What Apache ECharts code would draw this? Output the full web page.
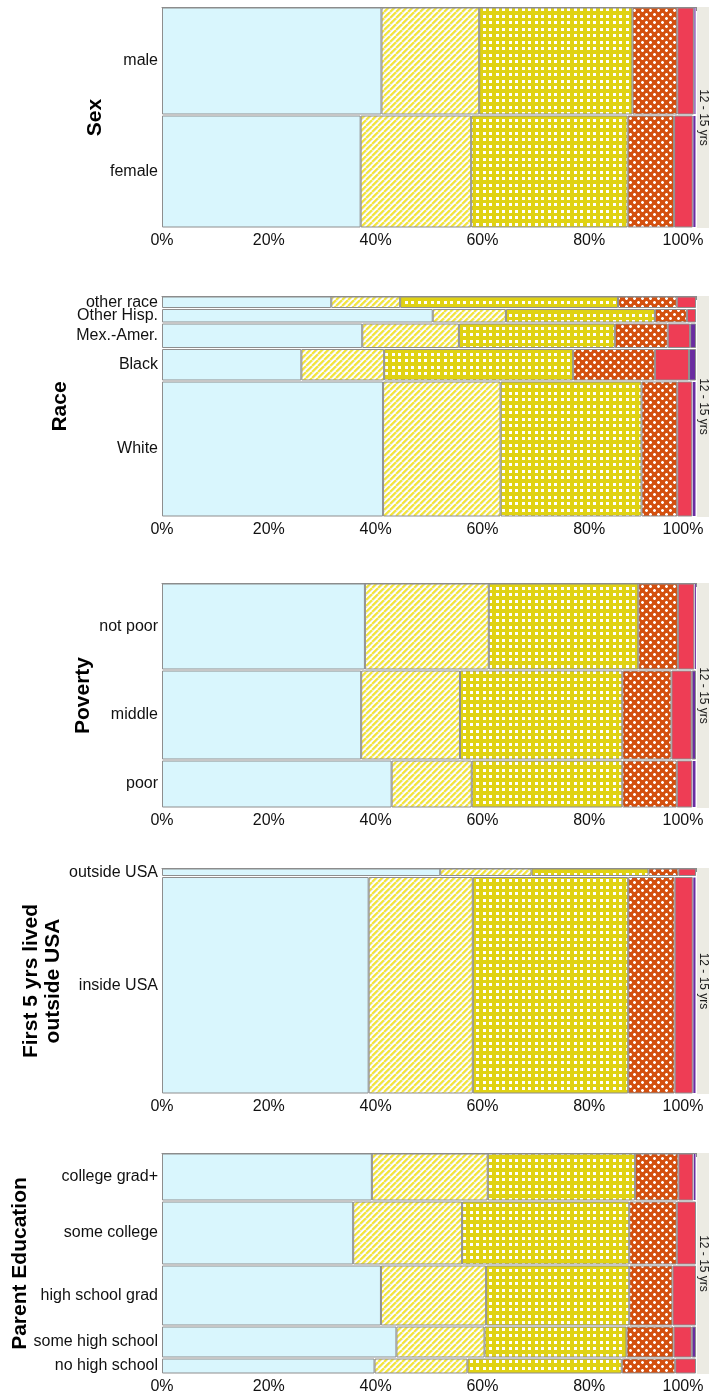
<!DOCTYPE html>
<html><head><meta charset="utf-8">
<script src="https://cdn.jsdelivr.net/npm/echarts@6/dist/echarts.min.js"></script>
<style>html,body{margin:0;padding:0;background:#fff}#c{width:709px;height:1397px}</style>
</head><body><div id="c"></div>
<script>
// ---------- DATA ----------
// Response levels (6 ordered groups); each row's percentages across them.
const xTicks = [0, 20, 40, 60, 80, 100];
const stripLabel = '12 - 15 yrs';

const sexTitle = 'Sex';
const sexRows = ['male', 'female'];
const sexCounts = [108, 113];
const sexPct = [
  [41.1, 18.3, 28.7, 8.4, 3.1, 0.4],
  [37.2, 20.7, 29.3, 8.7, 3.5, 0.6]
];

const raceTitle = 'Race';
const raceRows = ['other race', 'Other Hisp.', 'Mex.-Amer.', 'Black', 'White'];
const raceCounts = [12.5, 14.5, 25.5, 32.5, 136];
const racePct = [
  [31.7, 12.9, 40.8, 11.0, 3.6, 0],
  [50.7, 13.7, 27.9, 6.0, 1.7, 0],
  [37.5, 18.1, 29.2, 9.9, 4.2, 1.1],
  [26.1, 15.5, 35.4, 15.3, 6.4, 1.3],
  [41.4, 22.0, 26.4, 6.7, 2.8, 0.7]
];

const povTitle = 'Poverty';
const povRows = ['not poor', 'middle', 'poor'];
const povCounts = [87, 90, 48];
const povPct = [
  [38.0, 23.2, 28.0, 7.4, 3.1, 0.3],
  [37.3, 18.5, 30.4, 9.2, 3.8, 0.8],
  [43.0, 15.0, 28.2, 10.2, 2.9, 0.7]
];

const usaTitle = 'First 5 yrs lived\noutside USA';
const usaRows = ['outside USA', 'inside USA'];
const usaCounts = [8.5, 217.5];
const usaPct = [
  [52.1, 17.1, 21.9, 5.6, 3.3, 0],
  [38.7, 19.5, 29.1, 8.7, 3.4, 0.6]
];

const eduTitle = 'Parent Education';
const eduRows = ['college grad+', 'some college', 'high school grad', 'some high school', 'no high school'];
const eduCounts = [48, 64, 61, 32, 16];
const eduPct = [
  [39.3, 21.7, 27.6, 8.1, 2.8, 0.5],
  [35.8, 20.4, 31.3, 8.9, 3.6, 0],
  [41.0, 19.7, 26.8, 8.1, 4.4, 0],
  [43.9, 16.5, 26.6, 8.8, 3.4, 0.8],
  [39.8, 17.4, 28.9, 10.0, 3.9, 0]
];

// ---------- STYLE ----------
const FONT = '"Liberation Sans", Arial, Helvetica, sans-serif';
function mkCanvas(w, h, draw) {
  const c = document.createElement('canvas');
  c.width = w; c.height = h;
  draw(c.getContext('2d'));
  return c;
}
const stripeCanvas = mkCanvas(6, 6, g => {
  g.fillStyle = '#ffffff'; g.fillRect(0, 0, 6, 6);
  g.strokeStyle = '#f4e535'; g.lineWidth = 2;
  for (let o = -6; o <= 12; o += 6) { g.beginPath(); g.moveTo(o, 6); g.lineTo(o + 6, 0); g.stroke(); }
  g.strokeStyle = 'rgba(185,185,160,0.5)'; g.lineWidth = 0.7;
  for (let o = -6; o <= 12; o += 6) { g.beginPath(); g.moveTo(o + 1.8, 6); g.lineTo(o + 7.8, 0); g.stroke(); }
});
const gridCanvas = mkCanvas(13, 13, g => {
  g.fillStyle = '#e0d213'; g.fillRect(0, 0, 13, 13);
  g.fillStyle = '#ffffff';
  [[2, 2], [8, 2], [2, 8], [8, 8]].forEach(p => g.fillRect(p[0], p[1], 3, 3));
});
const crossCanvas = mkCanvas(8, 8, g => {
  g.fillStyle = '#d4500f'; g.fillRect(0, 0, 8, 8);
  g.fillStyle = '#ffffff';
  [[1, 1], [5, 5]].forEach(p => {
    g.fillRect(p[0], p[1] + 1, 3, 1);
    g.fillRect(p[0] + 1, p[1], 1, 3);
  });
  g.fillStyle = 'rgba(255,255,255,0.45)';
  [[1, 1], [5, 5]].forEach(p => {
    g.fillRect(p[0], p[1], 1, 1); g.fillRect(p[0] + 2, p[1], 1, 1);
    g.fillRect(p[0], p[1] + 2, 1, 1); g.fillRect(p[0] + 2, p[1] + 2, 1, 1);
  });
});
const fills = [
  '#d9f6fd',
  { image: stripeCanvas, repeat: 'repeat' },
  { image: gridCanvas, repeat: 'repeat' },
  { image: crossCanvas, repeat: 'repeat' },
  '#ee3d55',
  '#6a2ca0'
];

const panels = [
  { title: sexTitle, rows: sexRows, counts: sexCounts, pct: sexPct, top: 7, height: 221, gap: 56 },
  { title: raceTitle, rows: raceRows, counts: raceCounts, pct: racePct, top: 296, height: 221, gap: 91 },
  { title: povTitle, rows: povRows, counts: povCounts, pct: povPct, top: 583, height: 225, gap: 68 },
  { title: usaTitle, rows: usaRows, counts: usaCounts, pct: usaPct, top: 868, height: 226, gap: 98 },
  { title: eduTitle, rows: eduRows, counts: eduCounts, pct: eduPct, top: 1153, height: 221, gap: 131 }
];
panels.forEach(p => {
  p.cum = [0];
  p.counts.forEach(c => p.cum.push(p.cum[p.cum.length - 1] + c));
});

const LEFT = 162, RIGHT = 13;

function makeRender(p) {
  return function (params, api) {
    const r = api.value(0);
    const y0 = p.cum[r], y1 = p.cum[r + 1];
    const children = [];
    let acc = 0;
    p.pct[r].forEach((w, k) => {
      if (w <= 0) return;
      const a = api.coord([acc, y0]);
      const b = api.coord([acc + w, y1]);
      acc += w;
      const wpx = b[0] - a[0];
      const thin = wpx < 4;
      children.push({
        type: 'rect',
        shape: { x: a[0] + 0.5, y: a[1] + 1, width: Math.max(wpx - 1, 1), height: b[1] - a[1] - 2 },
        style: { fill: fills[k], stroke: thin ? null : '#8e8e8e', lineWidth: 1 }
      });
    });
    const l = api.coord([0, (y0 + y1) / 2]);
    children.push({
      type: 'text',
      style: { text: p.rows[r], x: l[0] - 4, y: l[1], align: 'right', verticalAlign: 'middle',
               font: '16px ' + FONT, fill: '#111' }
    });
    return { type: 'group', children };
  };
}

const option = {
  animation: false,
  grid: panels.map(p => ({ left: LEFT, right: RIGHT, top: p.top, height: p.height, containLabel: false })),
  xAxis: panels.map((p, i) => ({
    gridIndex: i, type: 'value', min: 0, max: 100, interval: 10,
    axisLine: { show: true, lineStyle: { color: '#8a8a8a', width: 1 } },
    axisTick: { show: true, length: 4, lineStyle: { color: '#8a8a8a' } },
    splitLine: { show: false },
    axisLabel: {
      margin: 5, fontSize: 16, color: '#111', fontFamily: FONT,
      formatter: v => xTicks.indexOf(v) < 0 ? '' : (v === 100 ? '{e|' + v + '%}' : v + '%'),
      rich: { e: { fontSize: 16, color: '#111', fontFamily: FONT, padding: [0, 26, 0, 0] } }
    }
  })),
  yAxis: panels.map((p, i) => ({
    gridIndex: i, type: 'value', inverse: true, min: 0, max: p.cum[p.cum.length - 1],
    axisLine: { show: false }, axisTick: { show: false }, axisLabel: { show: false }, splitLine: { show: false },
    name: p.title, nameLocation: 'middle', nameRotate: 90, nameGap: p.gap,
    nameTextStyle: { fontSize: 21, fontWeight: 'bold', color: '#000', fontFamily: FONT, lineHeight: 22 }
  })),
  series: panels.map((p, i) => ({
    type: 'custom', xAxisIndex: i, yAxisIndex: i, clip: false,
    data: p.rows.map((_, r) => [r]),
    renderItem: makeRender(p)
  })),
  graphic: panels.flatMap(p => [
    { type: 'rect', left: 697, top: p.top, shape: { width: 12, height: p.height },
      style: { fill: '#ecebe3', stroke: null } },
    { type: 'text', x: 703, y: p.top + p.height / 2, rotation: -Math.PI / 2,
      style: { text: stripLabel, align: 'center', verticalAlign: 'middle', font: '12px ' + FONT, fill: '#1a1a1a' } }
  ])
};
const chart = echarts.init(document.getElementById('c'));
chart.setOption(option);
</script>
</body></html>
